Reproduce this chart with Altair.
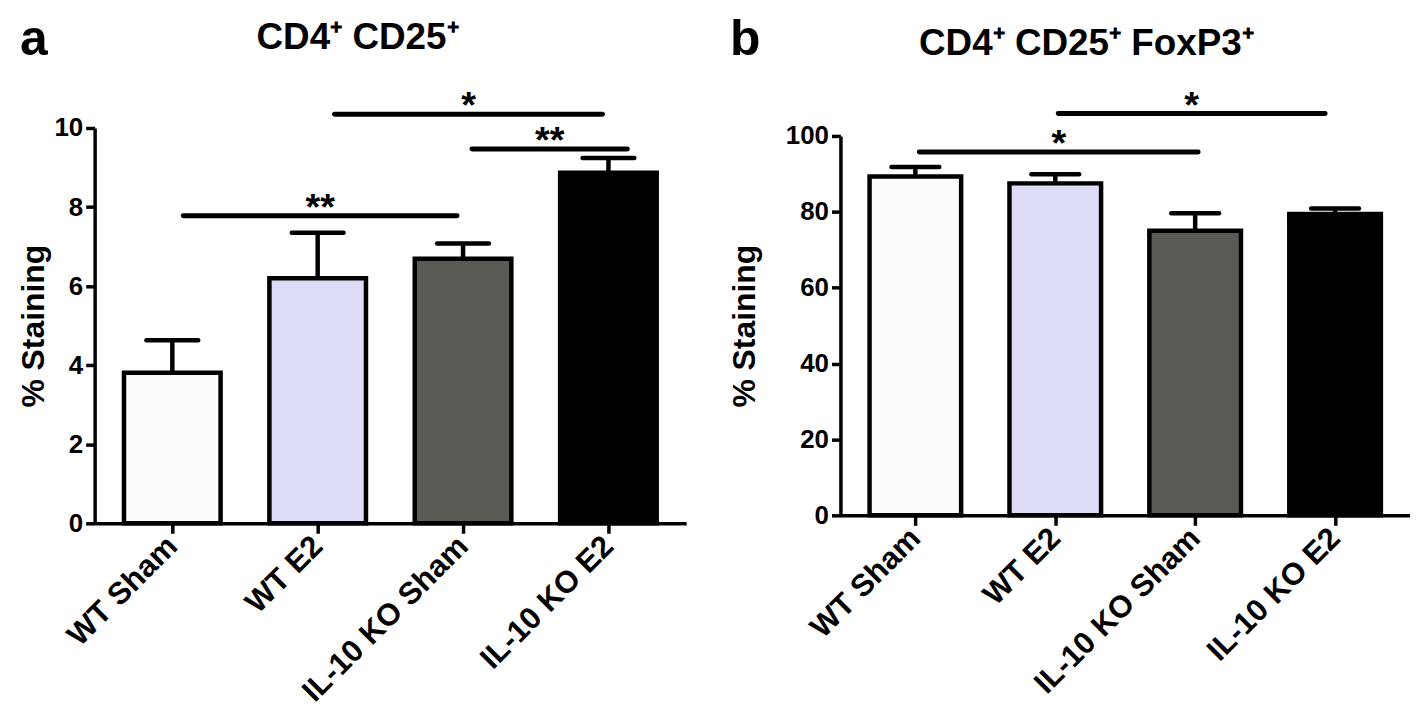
import altair as alt
import pandas as pd

# ---------------- data ----------------
groups = ["WT Sham", "WT E2", "IL-10 KO Sham", "IL-10 KO E2"]
bar_colors = ["#fbfbfb", "#dddcf7", "#5a5a54", "#000000"]

a_mean = [3.81, 6.20, 6.69, 8.87]
a_sem = [0.82, 1.15, 0.39, 0.37]
a_ticks = [0, 2, 4, 6, 8, 10]
a_sig_from = [0, 1, 2]
a_sig_to = [2, 3, 3]
a_sig_level = [7.78, 10.35, 9.47]
a_sig_label = ["**", "*", "**"]

b_mean = [89.3, 87.5, 75.0, 79.4]
b_sem = [2.5, 2.4, 4.6, 1.5]
b_ticks = [0, 20, 40, 60, 80, 100]
b_sig_from = [0, 1]
b_sig_to = [2, 3]
b_sig_level = [95.8, 105.9]
b_sig_label = ["*", "*"]

y_title = "% Staining"
a_title = "CD4\u207a CD25\u207a"
b_title = "CD4\u207a CD25\u207a FoxP3\u207a"

SANS = "Liberation Sans, Arial, Helvetica, sans-serif"


def panel(means, sems, ticks, sig_from, sig_to, sig_level, sig_label, sig_offsets,
          width, height, top_inset, bar_w, cap_half, title_pad,
          letter, letter_x, letter_y, title, title_x, title_y):
    pos = list(range(len(groups)))
    df = pd.DataFrame({
        "group": groups,
        "pos": pos,
        "mean": means,
        "top": [m + s for m, s in zip(means, sems)],
    })
    sig = pd.DataFrame({
        "idx": list(range(len(sig_from))),
        "x1": sig_from,
        "x2": sig_to,
        "mid": [(a + b) / 2 for a, b in zip(sig_from, sig_to)],
        "level": sig_level,
        "label": sig_label,
    })
    label_expr = "[" + ",".join("'%s'" % g for g in groups) + "][datum.value]"
    xs = alt.Scale(domain=[-0.5, len(groups) - 0.5], nice=False, zero=False)
    ys = alt.Scale(domain=[ticks[0], ticks[-1]], nice=False,
                   range=[height, top_inset])

    xaxis = alt.Axis(values=pos, labelExpr=label_expr, title=None,
                     labelAngle=-45, labelAlign="right", labelBaseline="middle",
                     labelFont=SANS, labelFontSize=31, labelFontWeight="bold",
                     labelColor="black", labelPadding=8, labelLimit=500,
                     tickSize=10, tickWidth=3.5, tickColor="black",
                     domainWidth=3.5, domainColor="black", grid=False,
                     labelFlush=False, labelOverlap=False)
    yaxis = alt.Axis(values=ticks, title=y_title, titleFont=SANS,
                     titleFontSize=32, titleFontWeight="bold", titleColor="black",
                     titlePadding=title_pad,
                     labelFont=SANS, labelFontSize=26, labelFontWeight="bold",
                     labelColor="black", labelPadding=3, tickSize=9,
                     tickWidth=3.5, tickColor="black", domainWidth=3.5,
                     domainColor="black", grid=False, labelFlush=False)

    base = alt.Chart(df)
    stems = base.mark_rule(color="black", strokeWidth=4.5).encode(
        x=alt.X("pos:Q", scale=xs, axis=xaxis),
        y=alt.Y("mean:Q", scale=ys, axis=yaxis),
        y2="top:Q",
    )
    caps = base.mark_rule(color="black", strokeWidth=4.5, strokeCap="round",
                          xOffset=-cap_half, x2Offset=cap_half).encode(
        x=alt.X("pos:Q", scale=xs, axis=xaxis),
        x2="pos:Q",
        y=alt.Y("top:Q", scale=ys, axis=yaxis),
    )
    bars = base.mark_bar(orient="vertical", width=bar_w, stroke="black",
                         strokeWidth=4.5).encode(
        x=alt.X("pos:Q", scale=xs, axis=xaxis),
        y=alt.Y("mean:Q", scale=ys, axis=yaxis),
        fill=alt.Fill("group:N", scale=alt.Scale(domain=groups, range=bar_colors),
                      legend=None),
    )
    layers = [stems, bars, caps]

    sbase = alt.Chart(sig)
    for i, (o1, o2) in enumerate(sig_offsets):
        one = sbase.transform_filter(alt.datum.idx == i)
        layers.append(one.mark_rule(color="black", strokeWidth=5, strokeCap="round",
                                    xOffset=o1, x2Offset=o2).encode(
            x=alt.X("x1:Q", scale=xs, axis=xaxis),
            x2="x2:Q",
            y=alt.Y("level:Q", scale=ys, axis=yaxis),
        ))
        layers.append(one.mark_text(font=SANS, fontSize=38, fontWeight="bold",
                                    color="black", dy=4, dx=(o1 + o2) / 2,
                                    baseline="alphabetic").encode(
            x=alt.X("mid:Q", scale=xs, axis=xaxis),
            y=alt.Y("level:Q", scale=ys, axis=yaxis),
            text="label:N",
        ))

    layers.append(alt.Chart(pd.DataFrame({"t": [letter]})).mark_text(
        font=SANS, fontSize=50, fontWeight="bold", color="black",
        align="left", baseline="alphabetic").encode(
        text="t:N", x=alt.value(letter_x), y=alt.value(letter_y)))
    layers.append(alt.Chart(pd.DataFrame({"t": [title]})).mark_text(
        font=SANS, fontSize=37, fontWeight="bold", color="black",
        align="center", baseline="alphabetic").encode(
        text="t:N", x=alt.value(title_x), y=alt.value(title_y)))

    return alt.layer(*layers).properties(width=width, height=height)


panel_a = panel(a_mean, a_sem, a_ticks, a_sig_from, a_sig_to, a_sig_level, a_sig_label,
                sig_offsets=[(11, -6), (17, -6), (9, 19)],
                width=594, height=397, top_inset=0, bar_w=97, cap_half=26, title_pad=3,
                letter="a", letter_x=-75, letter_y=-73,
                title=a_title, title_x=264, title_y=-79)
panel_b = panel(b_mean, b_sem, b_ticks, b_sig_from, b_sig_to, b_sig_level, b_sig_label,
                sig_offsets=[(4, 3), (3, -10)],
                width=572, height=389, top_inset=8, bar_w=92, cap_half=24, title_pad=24,
                letter="b", letter_x=-111, letter_y=-73,
                title=b_title, title_x=247, title_y=-73)

chart = alt.hconcat(panel_a, panel_b, spacing=155, bounds="flush").properties(
    padding={"left": 10, "top": 6, "right": 0, "bottom": 0}
).configure_view(stroke=None)

chart.save("out.html", embed_options={"renderer": "svg", "actions": False})
